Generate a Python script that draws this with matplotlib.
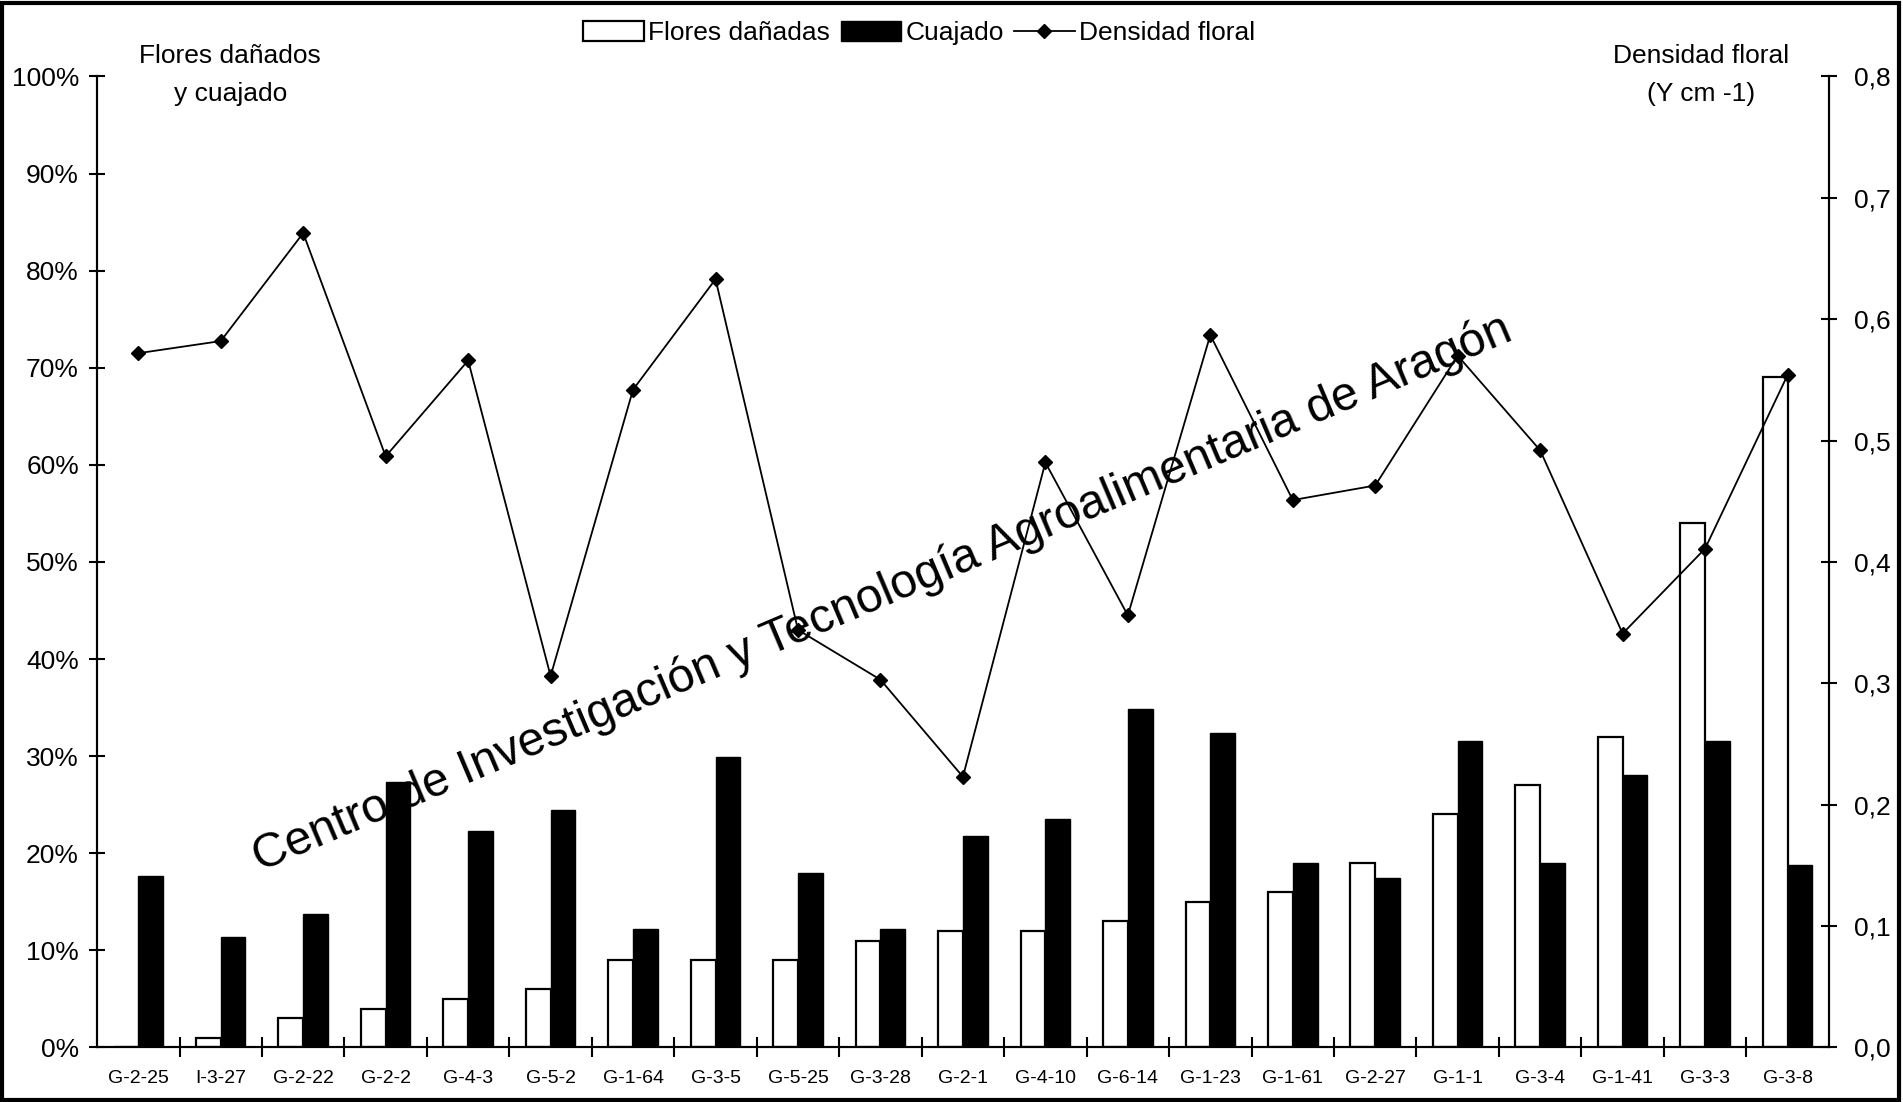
import matplotlib
matplotlib.use('Agg')
import matplotlib.pyplot as plt
from matplotlib.patches import Rectangle, Patch
from matplotlib.lines import Line2D
import numpy as np

plt.rcParams['font.family'] = ['Liberation Sans', 'DejaVu Sans']

clones = ['G-2-25', 'I-3-27', 'G-2-22', 'G-2-2', 'G-4-3', 'G-5-2', 'G-1-64', 'G-3-5',
          'G-5-25', 'G-3-28', 'G-2-1', 'G-4-10', 'G-6-14', 'G-1-23', 'G-1-61', 'G-2-27',
          'G-1-1', 'G-3-4', 'G-1-41', 'G-3-3', 'G-3-8']
flores_danadas = [0, 1, 3, 4, 5, 6, 9, 9, 9, 11, 12, 12, 13, 15, 16, 19, 24, 27, 32, 54, 69]
cuajado = [17.7, 11.4, 13.7, 27.3, 22.3, 24.5, 12.2, 29.9, 18.0, 12.2, 21.8, 23.5,
           34.9, 32.4, 19.0, 17.5, 31.6, 19.0, 28.1, 31.6, 18.8]
densidad = [0.572, 0.582, 0.671, 0.487, 0.566, 0.306, 0.542, 0.633, 0.344, 0.303, 0.223,
            0.482, 0.356, 0.587, 0.451, 0.463, 0.570, 0.492, 0.341, 0.411, 0.554]

x = np.arange(len(clones))
w = 0.3

fig = plt.figure(figsize=(19.03, 11.02), dpi=100)
ax = fig.add_axes([0.051, 0.0495, 0.910, 0.8811])
ax2 = ax.twinx()

ax.bar(x - w / 2, flores_danadas, width=w, color='white', edgecolor='black', linewidth=1.6)
ax.bar(x + w / 2, cuajado, width=w, color='black', edgecolor='black', linewidth=1.0)
ax2.plot(x, densidad, color='black', linewidth=1.3, marker='D', markersize=7)

ax.set_xlim(-0.5, len(clones) - 0.5)
ax.set_ylim(0, 100)
ax2.set_ylim(0, 0.8)

for a in (ax, ax2):
    a.spines['top'].set_visible(False)
    for s in a.spines.values():
        s.set_linewidth(1.5)

ax.set_yticks(np.arange(0, 101, 10))
ax.set_yticklabels([f'{v}%' for v in range(0, 101, 10)])
ax2.set_yticks(np.arange(0, 0.81, 0.1))
ax2.set_yticklabels([f'{v:.1f}'.replace('.', ',') for v in np.arange(0, 0.81, 0.1)])
ax.tick_params(axis='y', direction='inout', length=12, width=1.5, labelsize=19, pad=7)
ax2.tick_params(axis='y', direction='inout', length=12, width=1.5, labelsize=19, pad=12)

ax.set_xticks(x)
ax.set_xticklabels(clones)
ax.set_xticks(x[:-1] + 0.5, minor=True)
ax.tick_params(axis='x', which='major', length=0, labelsize=14, pad=16)
ax.tick_params(axis='x', which='minor', direction='inout', length=14, width=1.5)

fig.text(0.121, 0.932, 'Flores dañados\ny cuajado', ha='center', va='center',
         fontsize=19, linespacing=1.7)
fig.text(0.894, 0.932, 'Densidad floral\n(Y cm -1)', ha='center', va='center',
         fontsize=19, linespacing=1.7)

handles = [Patch(facecolor='white', edgecolor='black', linewidth=1.6),
           Patch(facecolor='black', edgecolor='black'),
           Line2D([], [], color='black', linewidth=1.3, marker='D', markersize=7)]
fig.legend(handles, ['Flores dañadas', 'Cuajado', 'Densidad floral'], ncol=3,
           loc='center', bbox_to_anchor=(0.483, 0.970), frameon=False, fontsize=19,
           handlelength=2.3, handleheight=0.8, handletextpad=0.15, columnspacing=0.4)

fig.text(0.4635, 0.461, 'Centro de Investigación y Tecnología Agroalimentaria de Aragón',
         ha='center', va='center', rotation=23.0, fontsize=34.5, color='black',
         rotation_mode='anchor')

fig.patches.append(Rectangle((0.001, 0.002), 0.997, 0.995, transform=fig.transFigure,
                             fill=False, edgecolor='black', linewidth=3))

fig.savefig('out.png', dpi=100)
